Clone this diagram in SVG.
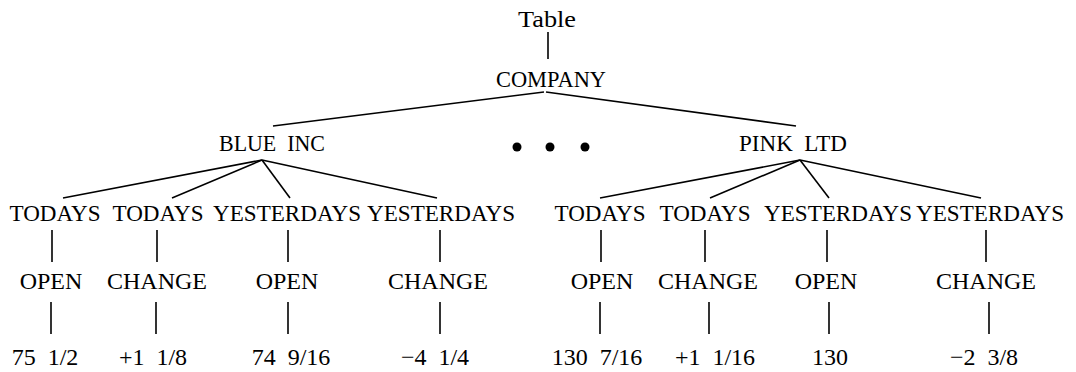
<svg xmlns="http://www.w3.org/2000/svg" width="1076" height="372" viewBox="0 0 1076 372">
<style>
text{font-family:"Liberation Serif","Times New Roman",serif;font-size:24px;fill:#000;text-anchor:middle;white-space:pre}
.l{stroke:#000;stroke-width:1.6;fill:none}
</style>
<rect width="1076" height="372" fill="#fff"/>
<g id="connectors" class="l">
<line x1="548" y1="32" x2="548" y2="59"/>
<line x1="544" y1="92" x2="273" y2="126"/>
<line x1="546" y1="92" x2="796" y2="126"/>
<line x1="262" y1="160" x2="63" y2="198"/>
<line x1="262" y1="160" x2="172" y2="198"/>
<line x1="262" y1="160" x2="290" y2="198"/>
<line x1="262" y1="160" x2="437" y2="198"/>
<line x1="800" y1="160" x2="600" y2="198"/>
<line x1="800" y1="160" x2="710" y2="198"/>
<line x1="800" y1="160" x2="829" y2="198"/>
<line x1="800" y1="160" x2="981" y2="198"/>
<line x1="52" y1="230" x2="52" y2="262"/>
<line x1="157" y1="230" x2="157" y2="262"/>
<line x1="288" y1="230" x2="288" y2="262"/>
<line x1="440" y1="230" x2="440" y2="262"/>
<line x1="601" y1="230" x2="601" y2="262"/>
<line x1="705" y1="230" x2="705" y2="262"/>
<line x1="827" y1="230" x2="827" y2="262"/>
<line x1="986" y1="230" x2="986" y2="262"/>
<line x1="51" y1="302" x2="51" y2="334"/>
<line x1="156" y1="302" x2="156" y2="334"/>
<line x1="288" y1="302" x2="288" y2="334"/>
<line x1="440" y1="302" x2="440" y2="334"/>
<line x1="600" y1="302" x2="600" y2="334"/>
<line x1="709" y1="302" x2="709" y2="334"/>
<line x1="829" y1="302" x2="829" y2="334"/>
<line x1="989" y1="302" x2="989" y2="334"/>
</g>
<g id="table"><text x="547" y="27" textLength="58" lengthAdjust="spacingAndGlyphs">Table</text></g>
<g id="company"><text x="551" y="87" textLength="110" lengthAdjust="spacingAndGlyphs">COMPANY</text></g>
<g id="blue-inc"><text x="272" y="151" textLength="106" lengthAdjust="spacingAndGlyphs">BLUE  INC</text></g>
<g id="ellipsis" fill="#000"><circle cx="517" cy="147" r="4.5"/><circle cx="550" cy="147" r="4.5"/><circle cx="585" cy="147" r="4.5"/></g>
<g id="pink-ltd"><text x="793" y="151" textLength="108" lengthAdjust="spacingAndGlyphs">PINK  LTD</text></g>
<g id="b-todays1"><text x="55" y="221" textLength="91" lengthAdjust="spacingAndGlyphs">TODAYS</text></g>
<g id="b-todays2"><text x="158" y="221" textLength="91" lengthAdjust="spacingAndGlyphs">TODAYS</text></g>
<g id="b-yest1"><text x="287" y="221" textLength="148" lengthAdjust="spacingAndGlyphs">YESTERDAYS</text></g>
<g id="b-yest2"><text x="441" y="221" textLength="148" lengthAdjust="spacingAndGlyphs">YESTERDAYS</text></g>
<g id="p-todays1"><text x="600" y="221" textLength="91" lengthAdjust="spacingAndGlyphs">TODAYS</text></g>
<g id="p-todays2"><text x="705" y="221" textLength="91" lengthAdjust="spacingAndGlyphs">TODAYS</text></g>
<g id="p-yest1"><text x="838" y="221" textLength="148" lengthAdjust="spacingAndGlyphs">YESTERDAYS</text></g>
<g id="p-yest2"><text x="990" y="221" textLength="148" lengthAdjust="spacingAndGlyphs">YESTERDAYS</text></g>
<g id="b-open1"><text x="51" y="289">OPEN</text></g>
<g id="b-change1"><text x="157" y="289">CHANGE</text></g>
<g id="b-open2"><text x="287" y="289">OPEN</text></g>
<g id="b-change2"><text x="438" y="289">CHANGE</text></g>
<g id="p-open1"><text x="602" y="289">OPEN</text></g>
<g id="p-change1"><text x="708" y="289">CHANGE</text></g>
<g id="p-open2"><text x="826" y="289">OPEN</text></g>
<g id="p-change2"><text x="986" y="289">CHANGE</text></g>
<g id="b-v1"><text x="45" y="365">75  1/2</text></g>
<g id="b-v2"><text x="153" y="365">+1  1/8</text></g>
<g id="b-v3"><text x="291" y="365">74  9/16</text></g>
<g id="b-v4"><text x="435" y="365">−4  1/4</text></g>
<g id="p-v1"><text x="597" y="365">130  7/16</text></g>
<g id="p-v2"><text x="715" y="365">+1  1/16</text></g>
<g id="p-v3"><text x="830" y="365">130</text></g>
<g id="p-v4"><text x="984" y="365">−2  3/8</text></g>
</svg>
